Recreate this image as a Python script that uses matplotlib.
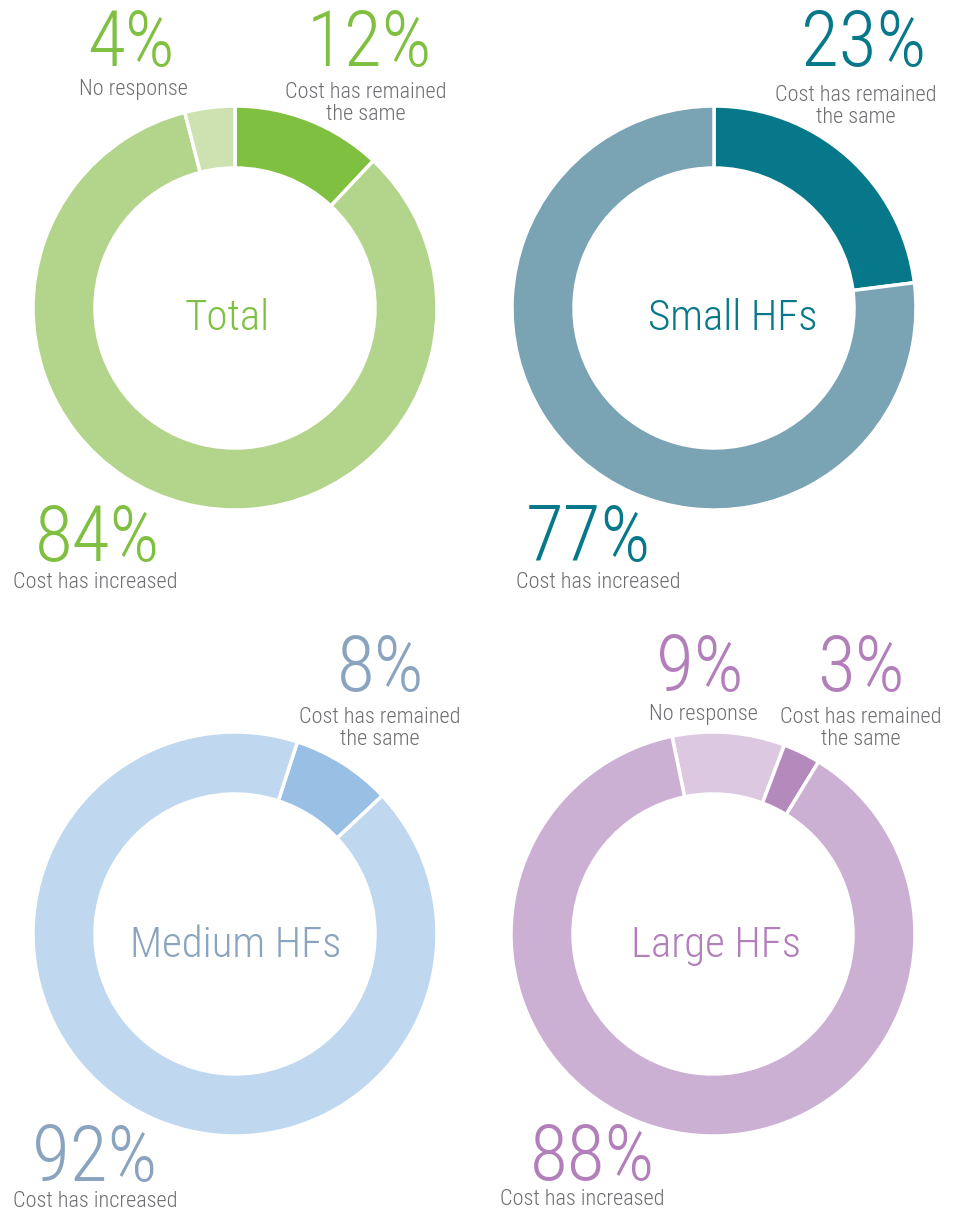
import matplotlib
matplotlib.use("Agg")
import matplotlib.pyplot as plt

# data
groups = ["Total", "Small HFs", "Medium HFs", "Large HFs"]
same_pct = [12, 23, 8, 3]
increased_pct = [84, 77, 92, 88]
no_resp_pct = [4, 0, 0, 9]

ring_colors = {
    "Total": {"same": "#80c041", "inc": "#b3d58b", "nr": "#cde2b0"},
    "Small HFs": {"same": "#067889", "inc": "#7aa3b3", "nr": "#ffffff"},
    "Medium HFs": {"same": "#99bfe5", "inc": "#c0d7f0", "nr": "#ffffff"},
    "Large HFs": {"same": "#b48abd", "inc": "#ccb0d3", "nr": "#dcc8e0"},
}
text_colors = {
    "Total": "#80c041",
    "Small HFs": "#067889",
    "Medium HFs": "#8aa4bf",
    "Large HFs": "#b27fbb",
}
label_gray = "#6d6e71"

plt.rcParams["font.family"] = ["Roboto Condensed", "DejaVu Sans"]
plt.rcParams["font.weight"] = 300

W, H = 955, 1212
fig = plt.figure(figsize=(W / 100, H / 100), dpi=100)
ax = fig.add_axes([0, 0, 1, 1])

# ring centres (px from top-left), where the first slice starts (deg clockwise from 12 o'clock),
# slice order, centre-label baseline position
centers = [(235, 308), (714, 308), (235, 934), (713, 934)]
start_offsets = [0, 0, 18, -11.7]
orders = [["same", "inc", "nr"], ["same", "inc", "nr"], ["same", "inc", "nr"], ["nr", "same", "inc"]]
title_pos = [(227, 330), (733, 330), (236, 957), (716, 957)]
R, ring_w = 202, 62

for i, g in enumerate(groups):
    cx, cy = centers[i]
    v = {"same": same_pct[i], "inc": increased_pct[i], "nr": no_resp_pct[i]}
    keys = [k for k in orders[i] if v[k] > 0]
    ax.pie([v[k] for k in keys], colors=[ring_colors[g][k] for k in keys],
           center=(cx, H - cy), radius=R,
           startangle=90 - start_offsets[i], counterclock=False,
           wedgeprops=dict(width=ring_w, edgecolor="white", linewidth=2.5))
    tx, ty = title_pos[i]
    ax.text(tx, H - ty, g, ha="center", va="baseline", fontsize=31, color=text_colors[g])

ax.set_xlim(0, W)
ax.set_ylim(0, H)
ax.set_aspect("equal")
ax.axis("off")


def big(x, y, s, g):
    ax.text(x, H - y, s, ha="center", va="baseline", fontsize=56, color=text_colors[g])


def small(x, y, s):
    ax.text(x, H - y, s, ha="center", va="baseline", fontsize=16, color=label_gray,
            linespacing=1.08)


# Total
big(131, 66, "4%", "Total")
small(133, 95, "No response")
big(369, 66, "12%", "Total")
small(366, 120, "Cost has remained\nthe same")
big(97, 561, "84%", "Total")
small(95, 588, "Cost has increased")

# Small HFs
big(864, 66, "23%", "Small HFs")
small(856, 123, "Cost has remained\nthe same")
big(588, 561, "77%", "Small HFs")
small(598, 588, "Cost has increased")

# Medium HFs
big(381, 691, "8%", "Medium HFs")
small(380, 745, "Cost has remained\nthe same")
big(95, 1181, "92%", "Medium HFs")
small(95, 1207, "Cost has increased")

# Large HFs
big(700, 691, "9%", "Large HFs")
small(703, 720, "No response")
big(861, 691, "3%", "Large HFs")
small(861, 745, "Cost has remained\nthe same")
big(592, 1180, "88%", "Large HFs")
small(582, 1205, "Cost has increased")

fig.savefig("out.png", dpi=100, facecolor="white")
